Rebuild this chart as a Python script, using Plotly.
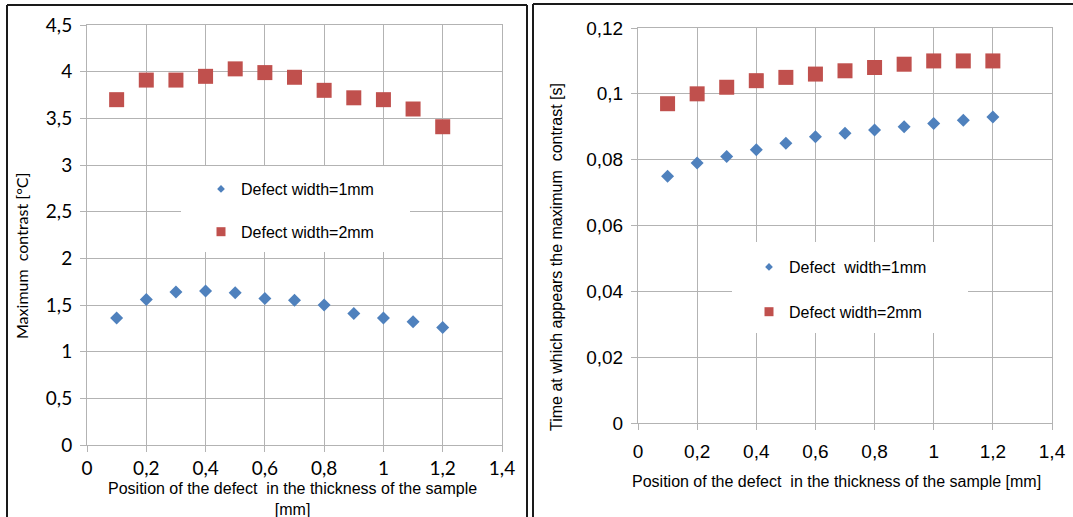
import plotly.graph_objects as go

# ---- data ----
positions = [0.1, 0.2, 0.3, 0.4, 0.5, 0.6, 0.7, 0.8, 0.9, 1.0, 1.1, 1.2]
contrast_1mm = [1.36, 1.56, 1.64, 1.65, 1.63, 1.57, 1.55, 1.50, 1.41, 1.36, 1.32, 1.26]
contrast_2mm = [3.70, 3.91, 3.91, 3.95, 4.03, 3.99, 3.94, 3.80, 3.72, 3.70, 3.60, 3.41]
time_1mm = [0.075, 0.079, 0.081, 0.083, 0.085, 0.087, 0.088, 0.089, 0.090, 0.091, 0.092, 0.093]
time_2mm = [0.097, 0.100, 0.102, 0.104, 0.105, 0.106, 0.107, 0.108, 0.109, 0.110, 0.110, 0.110]
series_names = ["Defect width=1mm", "Defect width=2mm"]
right_names = ["Defect  width=1mm", "Defect width=2mm"]
left_ytitle = "Maximum  contrast [°C]"
right_ytitle = "Time at which appears the maximum  contrast [s]"
left_xtitle = "Position of the defect  in the thickness of the sample<br>[mm]"
right_xtitle = "Position of the defect  in the thickness of the sample [mm]"

W, H = 1073, 517
BLUE = "#4F81BD"
RED = "#C0504D"
GRID = "#B3B3B3"


def px(x):
    return x / W


def py(y):
    return 1 - y / H


fig = go.Figure()

# data traces
fig.add_trace(go.Scatter(x=positions, y=contrast_1mm, mode="markers", xaxis="x", yaxis="y",
                         marker=dict(symbol="diamond", size=10, color=BLUE), showlegend=False))
fig.add_trace(go.Scatter(x=positions, y=contrast_2mm, mode="markers", xaxis="x", yaxis="y",
                         marker=dict(symbol="square", size=15, color=RED), showlegend=False))
fig.add_trace(go.Scatter(x=positions, y=time_1mm, mode="markers", xaxis="x2", yaxis="y2",
                         marker=dict(symbol="diamond", size=10, color=BLUE), showlegend=False))
fig.add_trace(go.Scatter(x=positions, y=time_2mm, mode="markers", xaxis="x2", yaxis="y2",
                         marker=dict(symbol="square", size=15, color=RED), showlegend=False))

# legend entries (smaller symbols, as in the original)
fig.add_trace(go.Scatter(x=[None], y=[None], mode="markers", name=series_names[0], legend="legend",
                         legendgroup="a", xaxis="x", yaxis="y",
                         marker=dict(symbol="diamond", size=6, color=BLUE)))
fig.add_trace(go.Scatter(x=[None], y=[None], mode="markers", name=series_names[1], legend="legend",
                         legendgroup="b", xaxis="x", yaxis="y",
                         marker=dict(symbol="square", size=9, color=RED)))
fig.add_trace(go.Scatter(x=[None], y=[None], mode="markers", name=right_names[0], legend="legend2",
                         legendgroup="c", xaxis="x2", yaxis="y2",
                         marker=dict(symbol="diamond", size=6, color=BLUE)))
fig.add_trace(go.Scatter(x=[None], y=[None], mode="markers", name=right_names[1], legend="legend2",
                         legendgroup="d", xaxis="x2", yaxis="y2",
                         marker=dict(symbol="square", size=9, color=RED)))

axis_common = dict(showgrid=True, gridcolor=GRID, gridwidth=1, zeroline=False,
                   showline=True, linecolor=GRID, linewidth=1, mirror=True,
                   ticks="outside", ticklen=6, tickcolor=GRID, tickwidth=1,
                   automargin=False)

left_tick_font = dict(family="Lato, Carlito, Calibri, sans-serif", size=19, color="#000000")
right_tick_font = dict(family="Liberation Sans, Arial, sans-serif", size=19, color="#000000")

fig.update_layout(
    template="none",
    width=W, height=H, autosize=False,
    margin=dict(l=0, r=0, t=0, b=0, pad=0, autoexpand=False),
    paper_bgcolor="white", plot_bgcolor="white",
    separators=", ",
    font=dict(family="Liberation Sans, Arial, sans-serif", size=16, color="#000000"),
    xaxis=dict(domain=[px(87), px(502)], range=[0, 1.4], dtick=0.2, tick0=0,
               anchor="y", tickfont=left_tick_font, **axis_common),
    yaxis=dict(domain=[py(445), py(25)], range=[0, 4.5], dtick=0.5, tick0=0,
               anchor="x", tickfont=left_tick_font, ticklabelstandoff=4, **axis_common),
    xaxis2=dict(domain=[px(638), px(1052)], range=[0, 1.4], dtick=0.2, tick0=0,
                anchor="y2", tickfont=right_tick_font, ticklabelstandoff=5, **axis_common),
    yaxis2=dict(domain=[py(423), py(28)], range=[0, 0.12], dtick=0.02, tick0=0,
                anchor="x2", tickfont=right_tick_font, ticklabelstandoff=4, **axis_common),
    legend=dict(x=px(201), y=py(172), xanchor="left", yanchor="top",
                bgcolor="rgba(0,0,0,0)", borderwidth=0, tracegroupgap=19,
                font=dict(family="Liberation Sans, Arial, sans-serif", size=16)),
    legend2=dict(x=px(749), y=py(250), xanchor="left", yanchor="top",
                 bgcolor="rgba(0,0,0,0)", borderwidth=0, tracegroupgap=21,
                 font=dict(family="Liberation Sans, Arial, sans-serif", size=16)),
)


def seg(x0, y0, x1, y1):
    return dict(type="line", xref="paper", yref="paper", x0=px(x0), y0=py(y0), x1=px(x1), y1=py(y1),
                line=dict(width=2, color="#1a1a1a"), layer="above")


shapes = [
    # white areas behind legends (hide gridlines)
    dict(type="rect", xref="paper", yref="paper", x0=px(181), x1=px(410), y0=py(252), y1=py(166),
         fillcolor="white", line=dict(width=0), layer="above"),
    dict(type="rect", xref="paper", yref="paper", x0=px(732), x1=px(968), y0=py(333), y1=py(242),
         fillcolor="white", line=dict(width=0), layer="above"),
    # panel borders
    seg(7, 5, 527, 5), seg(7, 5, 7, 517), seg(527, 5, 527, 517),
    seg(533, 4, 1073, 4), seg(533, 4, 533, 517),
]
fig.update_layout(shapes=shapes)

annotations = [
    dict(text=left_ytitle, x=px(22), y=py(256), xref="paper", yref="paper", textangle=-90,
         showarrow=False, xanchor="center", yanchor="middle",
         font=dict(family="Lato, Carlito, Calibri, sans-serif", size=16)),
    dict(text=right_ytitle, x=px(556), y=py(257), xref="paper", yref="paper", textangle=-90,
         showarrow=False, xanchor="center", yanchor="middle", font=dict(size=16)),
    dict(text=left_xtitle, x=px(292), y=py(499), xref="paper", yref="paper",
         showarrow=False, xanchor="center", yanchor="middle", font=dict(size=16)),
    dict(text=right_xtitle, x=px(836), y=py(481), xref="paper", yref="paper",
         showarrow=False, xanchor="center", yanchor="middle", font=dict(size=16)),
]
fig.update_layout(annotations=annotations)

fig.write_html("out.html", config={"displayModeBar": False})
